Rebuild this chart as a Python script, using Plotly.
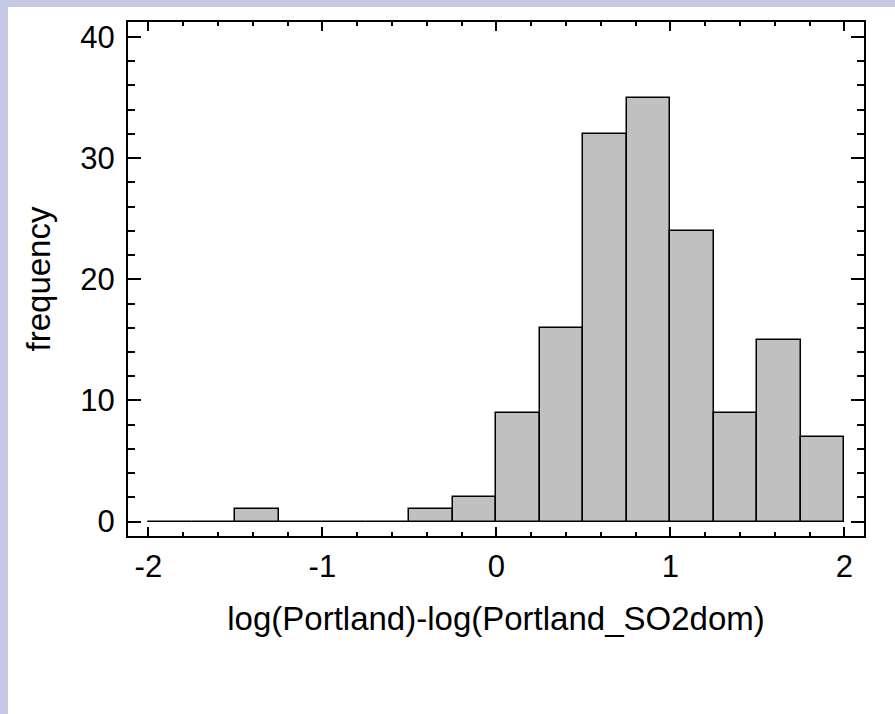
import plotly.graph_objects as go

# Histogram data (bin edges width 0.25 from -2 to 2)
bin_left = [-2.0, -1.75, -1.5, -1.25, -1.0, -0.75, -0.5, -0.25,
            0.0, 0.25, 0.5, 0.75, 1.0, 1.25, 1.5, 1.75]
counts = [0, 0, 1, 0, 0, 0, 1, 2, 9, 16, 32, 35, 24, 9, 15, 7]
bin_width = 0.25
x_ticks = [-2, -1, 0, 1, 2]
y_ticks = [0, 10, 20, 30, 40]

centers = [b + bin_width / 2 for b in bin_left]

FONT = "Liberation Sans, Arial, sans-serif"
LAVENDER = "#C5C9E3"

fig = go.Figure()
fig.add_trace(go.Bar(
    x=centers, y=counts, width=[bin_width] * len(centers),
    marker=dict(color="#C0C0C0", line=dict(color="black", width=1.5)),
    hoverinfo="x+y", showlegend=False,
))

W, H = 895, 714
L, R, T, B = 128, 31, 22, 178
pw, ph = W - L - R, H - T - B

# white panel over lavender background (left and top strips visible)
fig.add_shape(type="rect", xref="paper", yref="paper",
              x0=(8 - L) / pw, x1=(W - L + 5) / pw,
              y0=-(B + 5) / ph, y1=1 + (T - 7) / ph,
              fillcolor="white", line=dict(width=0), layer="below")

fig.update_layout(
    width=W, height=H,
    margin=dict(l=L, r=R, t=T, b=B),
    paper_bgcolor=LAVENDER, plot_bgcolor="white",
    font=dict(family=FONT, size=31, color="black"),
    bargap=0,
)
fig.update_xaxes(
    range=[-2.117, 2.113], tickvals=x_ticks, ticktext=[str(v) for v in x_ticks],
    showgrid=False, zeroline=False, showline=True, linecolor="black", linewidth=2,
    mirror="ticks", ticks="inside", ticklen=9, tickwidth=2, tickcolor="black",
    minor=dict(dtick=0.2, tick0=0, ticks="inside", ticklen=4, tickwidth=2,
               tickcolor="black", showgrid=False),
    ticklabelstandoff=2,
    title=dict(text="log(Portland)-log(Portland_SO2dom)",
               font=dict(family=FONT, size=33), standoff=24),
)
fig.update_yaxes(
    range=[-1.19, 41.24], tickvals=y_ticks, ticktext=[str(v) for v in y_ticks],
    showgrid=False, zeroline=False, showline=True, linecolor="black", linewidth=2,
    mirror="ticks", ticks="inside", ticklen=13, tickwidth=2, tickcolor="black",
    minor=dict(dtick=2, tick0=0, ticks="inside", ticklen=7, tickwidth=2,
               tickcolor="black", showgrid=False),
    ticklabelstandoff=5,
    title=dict(text="frequency", font=dict(family=FONT, size=33), standoff=20),
)

fig.write_html(
    "out.html",
    config={"displayModeBar": False},
    post_script="document.body.style.margin='0';document.body.style.padding='0';"
                "document.body.style.background='white';",
)
